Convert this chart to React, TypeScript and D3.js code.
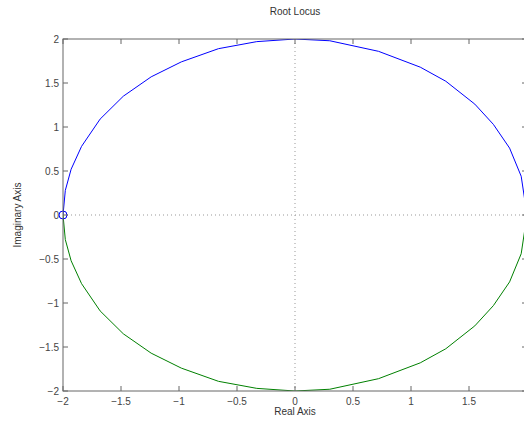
import * as d3 from "d3";

// root locus branches (real, imaginary)
const upperBranch: [number, number][] = [
  [-2, 0], [-1.98, 0.28], [-1.93, 0.52], [-1.84, 0.78], [-1.68, 1.09],
  [-1.48, 1.35], [-1.24, 1.57], [-0.98, 1.74], [-0.66, 1.89], [-0.33, 1.97],
  [0, 2.0], [0.3, 1.98], [0.72, 1.86], [1.08, 1.68], [1.3, 1.52],
  [1.55, 1.26], [1.71, 1.03], [1.85, 0.76], [1.95, 0.44], [2.0, 0.0],
];
const lowerBranch: [number, number][] = [
  [-2, 0], [-1.98, -0.28], [-1.93, -0.52], [-1.84, -0.78], [-1.68, -1.09],
  [-1.48, -1.35], [-1.24, -1.57], [-0.98, -1.74], [-0.66, -1.89], [-0.33, -1.97],
  [0, -2.0], [0.3, -1.98], [0.72, -1.86], [1.08, -1.68], [1.3, -1.52],
  [1.55, -1.26], [1.71, -1.03], [1.85, -0.76], [1.95, -0.44], [2.0, 0.0],
];
const zeros: [number, number][] = [[-2, 0]];
const xTicks = [-2, -1.5, -1, -0.5, 0, 0.5, 1, 1.5, 2];
const yTicks = [-2, -1.5, -1, -0.5, 0, 0.5, 1, 1.5, 2];

const fmt = (v: number) => (v < 0 ? "\u2212" + String(-v) : String(v));

export default function App() {
  const left = 63, right = 527, top = 39, bottom = 391;
  const x = d3.scaleLinear().domain([-2, 2]).range([left, right]);
  const y = d3.scaleLinear().domain([-2, 2]).range([bottom, top]);
  const line = d3.line<[number, number]>().x(d => x(d[0])).y(d => y(d[1]));
  const axisColor = "#666";
  const textColor = "#444";
  const font = "Liberation Sans, Arial, sans-serif";
  const tl = 5;

  return (
    <svg width={524} height={423} style={{ position: "absolute", left: 0, top: 0, background: "#fff" }}
      fontFamily={font}>
      <defs>
        <clipPath id="plot">
          <rect x={left} y={top} width={right - left} height={bottom - top} />
        </clipPath>
      </defs>
      <text x={295} y={15} textAnchor="middle" fontSize={10} fill="#333">Root Locus</text>
      {/* dotted zero lines */}
      <line x1={left} x2={right} y1={y(0)} y2={y(0)} stroke="#999" strokeDasharray="1,3" />
      <line x1={x(0)} x2={x(0)} y1={top} y2={bottom} stroke="#999" strokeDasharray="1,3" />
      <g clipPath="url(#plot)">
        <path d={line(upperBranch) ?? ""} fill="none" stroke="#0000ff" strokeWidth={1} />
        <path d={line(lowerBranch) ?? ""} fill="none" stroke="#008000" strokeWidth={1} />
      </g>
      {zeros.map((z, i) => (
        <circle key={i} cx={x(z[0])} cy={y(z[1])} r={4} fill="none" stroke="#0000ff" strokeWidth={1} />
      ))}
      {/* axes box */}
      <rect x={left} y={top} width={right - left} height={bottom - top} fill="none" stroke={axisColor} strokeWidth={1} />
      {xTicks.map(t => (
        <g key={"x" + t}>
          <line x1={x(t)} x2={x(t)} y1={bottom} y2={bottom - tl} stroke={axisColor} />
          <line x1={x(t)} x2={x(t)} y1={top} y2={top + tl} stroke={axisColor} />
          <text x={x(t)} y={bottom + 14} textAnchor="middle" fontSize={10} fill={textColor}>{fmt(t)}</text>
        </g>
      ))}
      {yTicks.map(t => (
        <g key={"y" + t}>
          <line x1={left} x2={left + tl} y1={y(t)} y2={y(t)} stroke={axisColor} />
          <line x1={right} x2={right - tl} y1={y(t)} y2={y(t)} stroke={axisColor} />
          <text x={left - 4} y={y(t) + 3.5} textAnchor="end" fontSize={10} fill={textColor}>{fmt(t)}</text>
        </g>
      ))}
      <text x={295} y={415} textAnchor="middle" fontSize={10} fill="#333">Real Axis</text>
      <text transform={`translate(21,${y(0)}) rotate(-90)`} textAnchor="middle" fontSize={10} fill="#333">Imaginary Axis</text>
    </svg>
  );
}
